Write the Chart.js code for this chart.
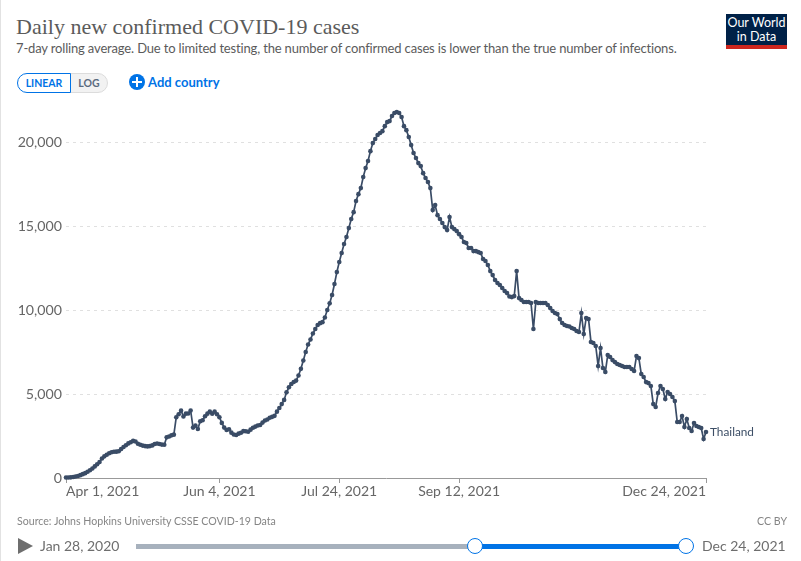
<!DOCTYPE html>
<html>
<head>
<meta charset="utf-8">
<title>Daily new confirmed COVID-19 cases</title>
<script src="https://cdn.jsdelivr.net/npm/chart.js@4"></script>
<style>
    html, body { margin: 0; padding: 0; background: #fff; }
    body { width: 801px; height: 561px; position: relative; overflow: hidden; font-family: Lato, "Open Sans", sans-serif; }
    .abs { position: absolute; white-space: nowrap; }
    #edge { left: 0; top: 0; width: 1px; height: 561px; background: #e2e2e2; }
    #title { left: 16px; top: 12px; font: 22px/30px "Liberation Serif", serif; color: #5b5b5b; }
    #subtitle { left: 16px; top: 40px; font-size: 13px; letter-spacing: -0.16px; line-height: 17px; color: #5b5b5b; }
    #logo { left: 726px; top: 14px; width: 61px; height: 35px; background: #002147; border-bottom: 4px solid #ce261e; box-sizing: border-box; color: #fff; font-size: 12.5px; line-height: 14px; text-align: center; padding-top: 2px; }
    .btn { top: 73px; height: 20px; box-sizing: border-box; font-size: 10.5px; line-height: 18px; text-align: center; }
    #linear { left: 17px; width: 54px; border: 1px solid #0073e6; border-radius: 10px 0 0 10px; color: #0073e6; font-weight: 700; background: #fff; z-index: 1; }
    #log { left: 70px; width: 38px; border: 1px solid #dcdcdc; border-radius: 0 10px 10px 0; color: #5b6b80; background: #f2f2f2; font-weight: 700; }
    #plus { left: 129px; top: 74px; width: 16px; height: 16px; border-radius: 50%; background: #0073e6; }
    #plus:before { content: ""; position: absolute; left: 3px; top: 7px; width: 10px; height: 2px; background: #fff; }
    #plus:after { content: ""; position: absolute; left: 7px; top: 3px; width: 2px; height: 10px; background: #fff; }
    #add { left: 148px; top: 74px; font-size: 13px; line-height: 17px; font-weight: 700; color: #0073e6; }
    #source { left: 17px; top: 514px; font-size: 10.6px; line-height: 14px; color: #858585; }
    #cc { right: 14px; top: 514px; font-size: 10.6px; line-height: 14px; color: #858585; }
    #play { left: 18px; top: 538px; width: 0; height: 0; border-left: 15px solid #6e6e6e; border-top: 8px solid transparent; border-bottom: 8px solid transparent; }
    .date { top: 537px; font-size: 14px; line-height: 18px; color: #6e6e6e; }
    #track { left: 136px; top: 544px; width: 550px; height: 5px; background: #a7b1bd; }
    #range { left: 475px; top: 544px; width: 211px; height: 5px; background: #0073e6; }
    .handle { top: 538px; width: 16px; height: 16px; box-sizing: border-box; border: 1.5px solid #0073e6; border-radius: 50%; background: #fff; }
    #chart { position: absolute; left: 0; top: 0; }
</style>
</head>
<body>
<div class="abs" id="edge"></div>
<div class="abs" id="title">Daily new confirmed COVID-19 cases</div>
<div class="abs" id="subtitle">7-day rolling average. Due to limited testing, the number of confirmed cases is lower than the true number of infections.</div>
<div class="abs" id="logo">Our World<br>in Data</div>
<div class="abs btn" id="linear">LINEAR</div>
<div class="abs btn" id="log">LOG</div>
<div class="abs" id="plus"></div>
<div class="abs" id="add">Add country</div>
<canvas id="chart" width="801" height="561"></canvas>
<div class="abs" id="source">Source: Johns Hopkins University CSSE COVID-19 Data</div>
<div class="abs" id="cc">CC BY</div>
<div class="abs" id="play"></div>
<div class="abs date" style="left:40px">Jan 28, 2020</div>
<div class="abs" id="track"></div>
<div class="abs" id="range"></div>
<div class="abs handle" style="left:467px"></div>
<div class="abs handle" style="left:678px"></div>
<div class="abs date" style="left:702px">Dec 24, 2021</div>

<script>
// Valores: un punto por dia desde Apr 1, 2021
const seriesName = 'Thailand';
const yTicks = [0, 5000, 10000, 15000, 20000];
const xTickDays = [0, 64, 114, 164, 267];
const xTickLabels = ['Apr 1, 2021', 'Jun 4, 2021', 'Jul 24, 2021', 'Sep 12, 2021', 'Dec 24, 2021'];
const cases = [
    30, 30, 40, 60, 90, 120, 170, 230, 290, 370, 460, 570, 690, 820, 950, 1160, 1290, 1380, 1470, 1530,
    1560, 1570, 1590, 1730, 1850, 1950, 2060, 2130, 2210, 2170, 2040, 1980, 1930, 1900, 1880, 1900, 1940, 2020, 2050, 2020,
    1990, 1980, 2420, 2470, 2540, 2580, 3620, 3800, 4010, 3660, 3830, 3840, 4020, 3000, 3120, 2920, 3380, 3440, 3680, 3830,
    3950, 3830, 3950, 3800, 3620, 3280, 3000, 2860, 2900, 2700, 2590, 2560, 2640, 2690, 2790, 2780, 2750, 2880, 2990, 3060,
    3130, 3160, 3300, 3420, 3480, 3590, 3640, 3700, 3950, 4170, 4400, 4650, 5100, 5400, 5600, 5720, 5800, 6100, 6500, 7000,
    7500, 7950, 8250, 8600, 8870, 9110, 9220, 9280, 9560, 10000, 10400, 10900, 11550, 12260, 12860, 13400, 13930, 14350, 14880, 15420,
    15830, 16490, 16900, 17260, 17920, 18450, 18870, 19460, 19940, 20180, 20420, 20540, 20650, 20950, 21190, 21250, 21550, 21730, 21790, 21730,
    21490, 20950, 20710, 20300, 19820, 19350, 19050, 18750, 18570, 18150, 17860, 17620, 17260, 15950, 16250, 15650, 15420, 15180, 14940, 14760,
    15540, 14940, 14820, 14700, 14520, 14350, 14050, 13990, 13690, 13690, 13510, 13510, 13450, 13400, 13040, 12920, 12680, 12320, 12080, 11790,
    11610, 11490, 11310, 11130, 11010, 10810, 10770, 10830, 12320, 10710, 10600, 10480, 10480, 10480, 10420, 8870, 10480, 10420, 10420, 10420,
    10420, 10300, 10120, 9940, 9820, 9760, 9460, 9230, 9110, 9050, 9020, 8930, 8870, 8750, 8690, 9820, 8570, 9520, 9460, 8100,
    8040, 7860, 6670, 7740, 6550, 6310, 7320, 7200, 7020, 6900, 6790, 6730, 6670, 6610, 6610, 6610, 6490, 6370, 7260, 7140,
    6190, 6010, 5710, 5650, 5480, 4400, 4230, 5060, 5480, 5300, 4700, 5120, 5000, 4820, 4580, 3330, 3330, 3690, 3040, 3510,
    2980, 2800, 3270, 3100, 3040, 2980, 2320, 2740
];

// Etiqueta del pais al final de la linea
const endLabel = {
    id: 'endLabel',
    afterDatasetsDraw(chart) {
        const last = chart.getDatasetMeta(0).data[cases.length - 1];
        const ctx = chart.ctx;
        ctx.save();
        ctx.font = '11.8px Lato';
        ctx.fillStyle = '#3c4e66';
        ctx.textBaseline = 'middle';
        ctx.fillText(seriesName, last.x + 4, last.y);
        ctx.restore();
    }
};

new Chart(document.getElementById('chart'), {
    type: 'line',
    data: {
        datasets: [{
            label: seriesName,
            data: cases.map((v, i) => ({ x: i, y: v })),
            borderColor: '#3a4c66',
            backgroundColor: '#3a4c66',
            borderWidth: 1.7,
            pointRadius: 2.3,
            pointBorderWidth: 0,
            tension: 0,
            clip: false
        }]
    },
    options: {
        responsive: false,
        animation: false,
        parsing: false,
        layout: { padding: { top: 108.5, right: 95, left: 0, bottom: 0 } },
        plugins: { legend: { display: false }, tooltip: { enabled: false } },
        scales: {
            x: {
                type: 'linear',
                min: 0,
                max: cases.length - 1,
                afterFit(scale) { scale.height = 83; },
                afterBuildTicks(scale) { scale.ticks = xTickDays.map(v => ({ value: v })); },
                grid: { drawOnChartArea: false, drawTicks: true, tickLength: 5, color: '#999' },
                border: { color: '#999' },
                ticks: {
                    align: 'inner',
                    autoSkip: false,
                    maxRotation: 0,
                    padding: 0,
                    color: '#666',
                    font: { family: 'Lato', size: 14 },
                    callback: v => xTickLabels[xTickDays.indexOf(v)]
                }
            },
            y: {
                min: 0,
                max: 22000,
                afterFit(scale) { scale.width = 66; },
                afterBuildTicks(scale) { scale.ticks = yTicks.map(v => ({ value: v })); },
                grid: { color: '#e0e0e0', drawTicks: false },
                border: { display: false, dash: [3, 4] },
                ticks: {
                    padding: 4,
                    color: '#666',
                    font: { family: 'Lato', size: 14.2 },
                    callback: v => v.toLocaleString('en-US')
                }
            }
        }
    },
    plugins: [endLabel]
});
</script>
</body>
</html>
